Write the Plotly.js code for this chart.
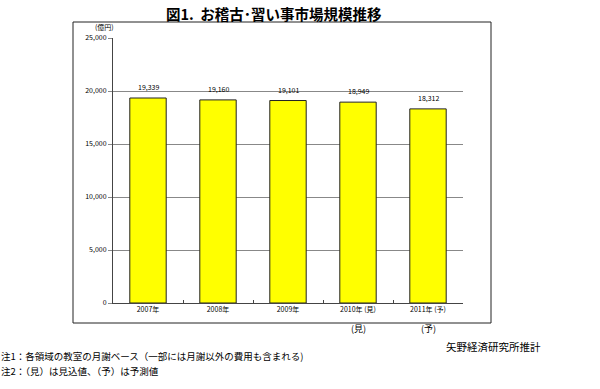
<!DOCTYPE html>
<html><head><meta charset="utf-8">
<script src="https://cdn.plot.ly/plotly-3.0.1.min.js"></script>
<style>body{margin:0;background:#fff}#c{width:600px;height:389px}</style>
</head><body><div id="c"></div>
<script>
const categories = ["2007年", "2008年", "2009年", "2010年 (見)", "2011年 (予)"];
const values = [19339, 19160, 19101, 18949, 18312];
const valueLabels = ["19,339", "19,160", "19,101", "18,949", "18,312"];
const yTickVals = [0, 5000, 10000, 15000, 20000, 25000];
const yTickText = ["0", "5,000", "10,000", "15,000", "20,000", "25,000"];
const subLabels = [["(見)", 3], ["(予)", 4]];

const JP = '"Noto Sans CJK JP", "Noto Sans", sans-serif';

const trace = {
  type: 'bar', x: categories, y: values,
  marker: {color: '#ffff00', line: {color: '#222222', width: 1}},
  width: 0.52, hoverinfo: 'none'
};

const annotations = [];
categories.forEach((c, i) => annotations.push({
  x: c, y: values[i], xref: 'x', yref: 'y', text: valueLabels[i],
  showarrow: false, yshift: 11, font: {family: JP, size: 7, color: '#000'}
}));
subLabels.forEach(([t, i]) => annotations.push({
  x: categories[i], y: 0, xref: 'x', yref: 'y', text: t, showarrow: false,
  yshift: -25, font: {family: JP, size: 9, color: '#000'}
}));

const layout = {
  width: 600, height: 389,
  margin: {l: 113, r: 137, t: 38, b: 86},
  paper_bgcolor: '#fff', plot_bgcolor: '#fff',
  showlegend: false, bargap: 0.48,
  xaxis: {
    type: 'category', tickson: 'boundaries', ticks: 'inside', ticklen: 3, tickcolor: '#444',
    showline: true, linecolor: '#444', linewidth: 1, showgrid: false,
    tickfont: {family: JP, size: 7, color: '#000'}, fixedrange: true
  },
  yaxis: {
    range: [0, 25000], tickvals: yTickVals, ticktext: yTickText,
    ticks: 'outside', ticklen: 4, tickcolor: '#888',
    showline: true, linecolor: '#444', linewidth: 1,
    showgrid: true, gridcolor: '#888', gridwidth: 1, zeroline: false,
    tickfont: {family: JP, size: 7, color: '#000'}, fixedrange: true
  },
  shapes: [{
    type: 'rect', xref: 'paper', yref: 'paper',
    x0: (73 - 113) / 350, x1: (491 - 113) / 350,
    y0: 1 - (323 - 38) / 265, y1: 1 + (38 - 22) / 265,
    line: {color: '#222', width: 1}, fillcolor: 'rgba(0,0,0,0)', layer: 'below'
  }],
  annotations: []
};

const P = (px, py) => ({x: (px - 113) / 350, y: (303 - py) / 265});
const addText = (text, px, py, size, anchor, extra) => {
  const p = P(px, py);
  annotations.push(Object.assign({
    text, x: p.x, y: p.y, xref: 'paper', yref: 'paper', showarrow: false,
    xanchor: anchor || 'center', yanchor: 'middle', align: 'left', borderpad: 0,
    font: {family: JP, size, color: '#000'}
  }, extra || {}));
};
addText('図1.  お稽古･習い事市場規模推移', 274, 13, 14.5, 'center', {font: {family: JP, size: 14.5, color: '#000', weight: 'bold'}});
addText('(億円)', 104, 27, 7, 'center');
addText('矢野経済研究所推計', 445, 346, 10.5, 'left');
addText('注1：各領域の教室の月謝ベース（一部には月謝以外の費用も含まれる)', 0, 356, 9.5, 'left');
addText('注2：（見）は見込値、（予）は予測値', 0, 370.5, 9.5, 'left');
layout.annotations = annotations;

Plotly.newPlot('c', [trace], layout, {staticPlot: true});
</script></body></html>
